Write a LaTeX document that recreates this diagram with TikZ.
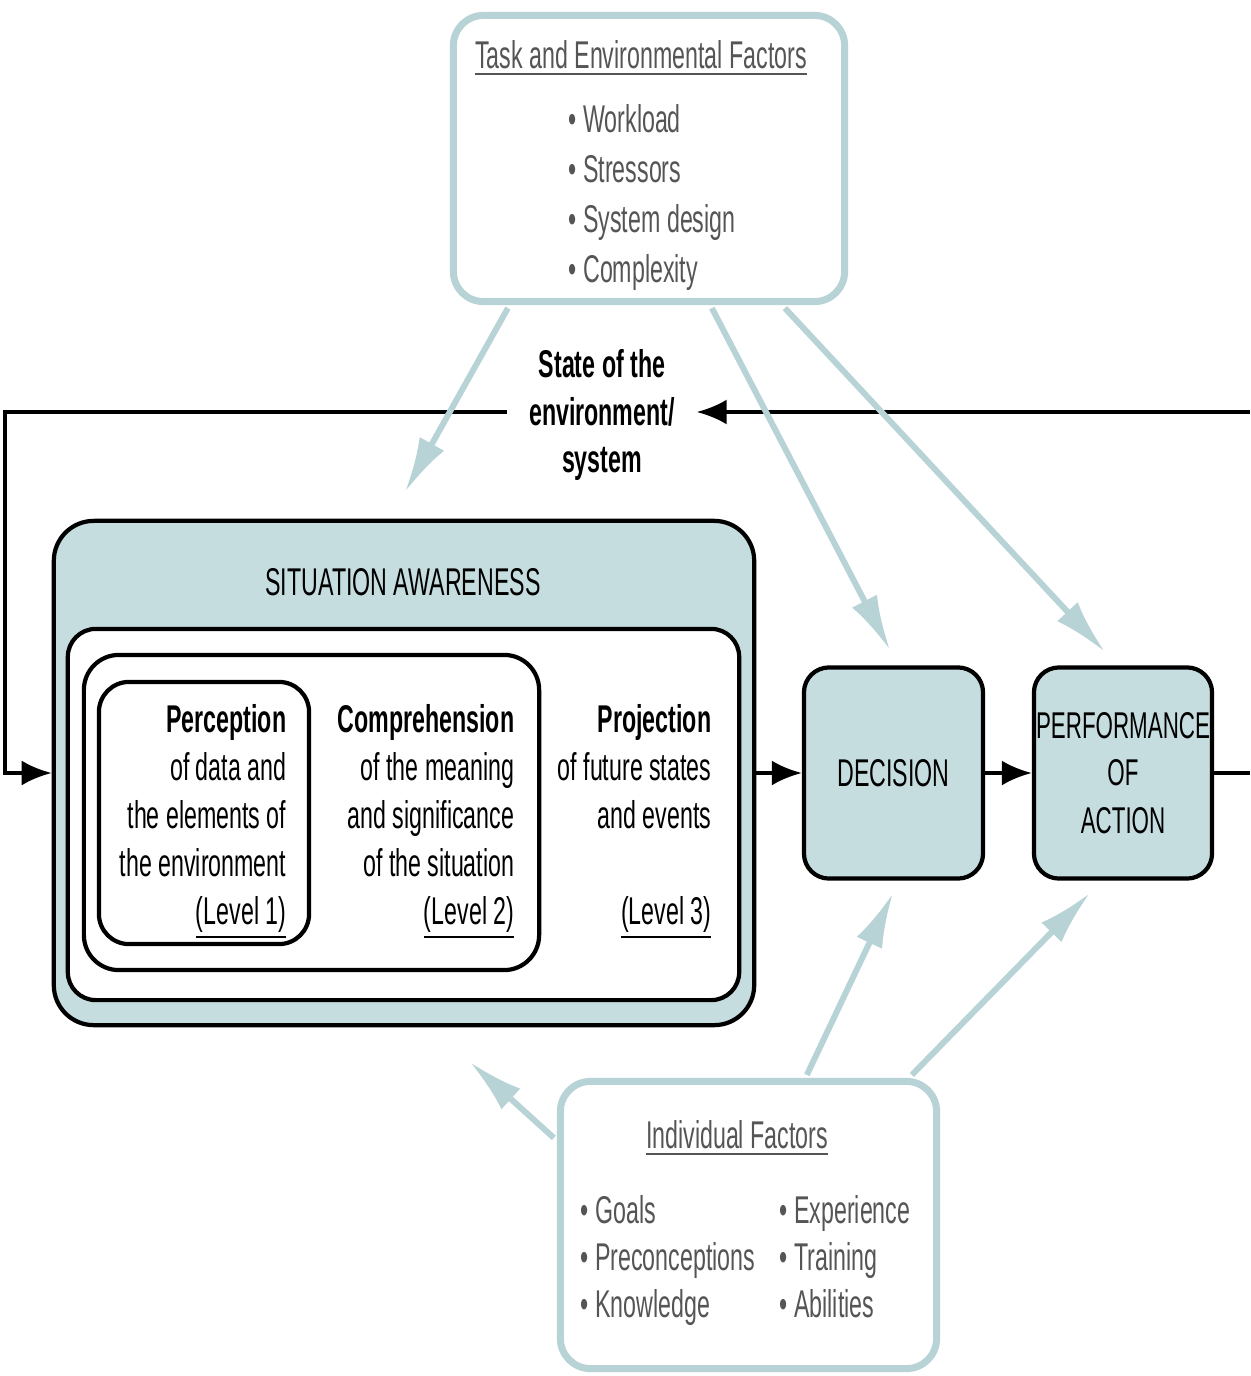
\documentclass[tikz,border=0pt]{standalone}
\usepackage{fontspec}
\setmainfont{Liberation Sans}[FakeStretch=0.6]
\usetikzlibrary{arrows.meta,calc}
\definecolor{satint}{RGB}{198,221,224}
\definecolor{faclin}{RGB}{184,211,214}
\definecolor{factxt}{RGB}{85,85,85}
\begin{document}
\begin{tikzpicture}[x=0.01cm, y=-0.01cm,
    every node/.style={font=\fontsize{11}{13.6}\selectfont, inner sep=0pt},
    facbox/.style={draw=faclin, line width=2pt, rounded corners=0.3cm},
    blkbox/.style={draw, line width=1.2pt, rounded corners=#1},
    blkbox/.default=0.25cm,
    flow/.style={line width=1.1pt, -{Latex[length=3mm,width=2.5mm]}},
    infl/.style={draw=faclin, line width=1.7pt, -{Latex[length=5.5mm,width=2.8mm]}}]
\useasboundingbox (0,0) rectangle (1250,1376);

% factor boxes
\node[facbox, minimum width=3.91cm, minimum height=2.86cm] (task) at (649,158.5) {};
\node[anchor=north, text=factxt] (tasktitle) at (641,40) {\underline{Task and Environmental Factors}};
\node[anchor=north west, align=left, text=factxt, font=\fontsize{11}{14.2}\selectfont] (tasklist) at (568,104)
    {\textbullet\ Workload\\\textbullet\ Stressors\\\textbullet\ System design\\\textbullet\ Complexity};

\node[facbox, minimum width=3.76cm, minimum height=2.87cm] (indiv) at (748.5,1225) {};
\node[anchor=north, text=factxt] (indtitle) at (737,1120) {\underline{Individual Factors}};
\node[anchor=north west, align=left, text=factxt, font=\fontsize{11}{13.4}\selectfont] (indlista) at (580,1195)
    {\textbullet\ Goals\\\textbullet\ Preconceptions\\\textbullet\ Knowledge};
\node[anchor=north west, align=left, text=factxt, font=\fontsize{11}{13.4}\selectfont] (indlistb) at (779,1195)
    {\textbullet\ Experience\\\textbullet\ Training\\\textbullet\ Abilities};

% situation awareness
\node[blkbox=0.4cm, fill=satint, minimum width=7cm, minimum height=5.04cm] (sa) at (404,773) {};
\node (satitle) at (403,582) {SITUATION AWARENESS};
\node[blkbox=0.28cm, fill=white, minimum width=6.71cm, minimum height=3.71cm] (aware) at (403.5,814.5) {};
\node[blkbox=0.35cm, minimum width=4.55cm, minimum height=3.15cm] (lvtwo) at (311.5,812.5) {};
\node[blkbox=0.3cm, minimum width=2.1cm, minimum height=2.62cm] (lvone) at (204,813) {};

\node[anchor=north east, align=right] (perc) at (287,704)
    {\textbf{Perception}\\of data and\\the elements of\\the environment\\\underline{(Level 1)}};
\node[anchor=north east, align=right] (comp) at (515,704)
    {\textbf{Comprehension}\\of the meaning\\and significance\\of the situation\\\underline{(Level 2)}};
\node[anchor=north east, align=right] (proj) at (712,704)
    {\textbf{Projection}\\of future states\\and events\\[13.6pt]\underline{(Level 3)}};

% decision and action
\node[blkbox, fill=satint, minimum width=1.79cm, minimum height=2.11cm] (dec) at (893.5,773) {DECISION};
\node[blkbox, fill=satint, minimum width=1.78cm, minimum height=2.11cm, align=center,
    font=\fontsize{10.6}{13.5}\selectfont] (perf) at (1123,773) {PERFORMANCE\\OF\\ACTION};

% feedback loop
\node[align=center, inner xsep=6pt, font=\bfseries\fontsize{11}{13.5}\selectfont] (state) at (602,415)
    {State of the\\environment/\\system};
\coordinate (rightin) at (1250,412);
\coordinate (leftout) at (5,412);
\coordinate (rightout) at (1250,773);

\draw[flow] (rightin) -- (state.east |- rightin);
\draw[flow] (state.west |- leftout) -- (leftout) |- (sa.west);
\draw[flow] (sa.east) -- (dec.west);
\draw[flow] (dec.east) -- (perf.west);
\draw[line width=1.1pt] (perf.east) -- (rightout);

% influences
\coordinate (satop) at (405,492);
\coordinate (dectop) at (890,650);
\coordinate (perftop) at (1105,652);
\coordinate (decbot) at (893,893);
\coordinate (perfbot) at (1090,893);
\coordinate (sabot) at (470,1062);

\draw[infl] ($(task.south west)+(58,3)$) -- (satop);
\draw[infl] ($(task.south west)+(262,3)$) -- (dectop);
\draw[infl] ($(task.south west)+(335,3)$) -- (perftop);
\draw[infl] ($(indiv.north west)+(250,-3)$) -- (decbot);
\draw[infl] ($(indiv.north west)+(355,-3)$) -- (perfbot);
\draw[infl] ($(indiv.north west)+(-3,60)$) -- (sabot);
\end{tikzpicture}
\end{document}
